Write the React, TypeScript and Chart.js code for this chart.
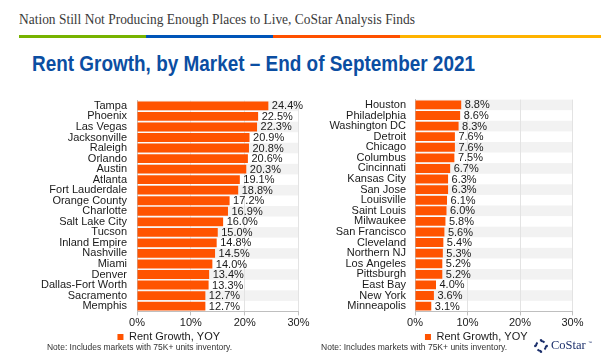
import React, { useEffect, useLayoutEffect, useRef } from "react";
import { Chart, registerables } from "chart.js";

Chart.register(...registerables);

const HEADLINE = "Nation Still Not Producing Enough Places to Live, CoStar Analysis Finds";
const TITLE = "Rent Growth, by Market – End of September 2021";
const SERIES_LABEL = "Rent Growth, YOY";
const NOTE = "Note: Includes markets with 75K+ units inventory.";
const X_TICKS = [0, 10, 20, 30];

const leftMarkets = [
  "Tampa", "Phoenix", "Las Vegas", "Jacksonville", "Raleigh", "Orlando", "Austin",
  "Atlanta", "Fort Lauderdale", "Orange County", "Charlotte", "Salt Lake City", "Tucson",
  "Inland Empire", "Nashville", "Miami", "Denver", "Dallas-Fort Worth", "Sacramento", "Memphis",
];
const leftValues = [
  24.4, 22.5, 22.3, 20.9, 20.8, 20.6, 20.3, 19.1, 18.8, 17.2,
  16.9, 16.0, 15.0, 14.8, 14.5, 14.0, 13.4, 13.3, 12.7, 12.7,
];

const rightMarkets = [
  "Houston", "Philadelphia", "Washington DC", "Detroit", "Chicago", "Columbus", "Cincinnati",
  "Kansas City", "San Jose", "Louisville", "Saint Louis", "Milwaukee", "San Francisco",
  "Cleveland", "Northern NJ", "Los Angeles", "Pittsburgh", "East Bay", "New York", "Minneapolis",
];
const rightValues = [
  8.8, 8.6, 8.3, 7.6, 7.6, 7.5, 6.7, 6.3, 6.3, 6.1,
  6.0, 5.8, 5.6, 5.4, 5.3, 5.2, 5.2, 4.0, 3.6, 3.1,
];

const SANS = '"Liberation Sans", Arial, sans-serif';
const SERIF = '"Liberation Serif", "Times New Roman", serif';
const BAR_COLOR = "#FF5300";
const TEXT_COLOR = "#1a1a1a";

type Geo = {
  left: number;
  top: number;
  width: number;
  height: number;
  padLeft: number;
  padRight: number;
  padTop: number;
  padBottom: number;
  yAxisWidth: number;
  tickPad: number;
  legendShift: number;
};

function BarPanel({ labels, values, geo }: { labels: string[]; values: number[]; geo: Geo }) {
  const ref = useRef<HTMLCanvasElement>(null);
  useEffect(() => {
    if (!ref.current) return;
    const zebra = {
      id: "zebra",
      beforeDraw(chart: any) {
        const { ctx, chartArea, scales } = chart;
        const y = scales.y;
        const step = Math.abs(y.getPixelForValue(1) - y.getPixelForValue(0));
        ctx.save();
        ctx.fillStyle = "#F2F2F2";
        labels.forEach((_, i) => {
          if (i % 2 !== 0) return;
          const c = y.getPixelForValue(i);
          ctx.fillRect(chartArea.left, c - step / 2, chartArea.right - chartArea.left, step);
        });
        ctx.restore();
      },
    };
    const legendShift = {
      id: "legendShift",
      afterLayout(chart: any) {
        if (chart.legend && geo.legendShift) {
          chart.legend.left += geo.legendShift;
          chart.legend.right += geo.legendShift;
        }
      },
    };
    const valueLabels = {
      id: "valueLabels",
      afterDatasetsDraw(chart: any) {
        const { ctx } = chart;
        const meta = chart.getDatasetMeta(0);
        ctx.save();
        ctx.font = `11px ${SANS}`;
        ctx.fillStyle = TEXT_COLOR;
        ctx.textAlign = "left";
        ctx.textBaseline = "middle";
        meta.data.forEach((bar: any, i: number) => {
          ctx.fillText(values[i].toFixed(1) + "%", bar.x + 3.5, bar.y + 0.5);
        });
        ctx.restore();
      },
    };
    const chart = new Chart(ref.current, {
      type: "bar",
      data: {
        labels,
        datasets: [
          {
            label: SERIES_LABEL,
            data: values,
            backgroundColor: BAR_COLOR,
            borderWidth: 0,
            barPercentage: 0.84,
            categoryPercentage: 1,
          },
        ],
      },
      options: {
        indexAxis: "y",
        animation: false,
        responsive: false,
        devicePixelRatio: 1,
        layout: {
          padding: { left: geo.padLeft, right: geo.padRight, top: geo.padTop, bottom: geo.padBottom },
        },
        plugins: {
          tooltip: { enabled: false },
          legend: {
            position: "bottom",
            labels: {
              boxWidth: 6,
              boxHeight: 6,
              padding: 4,
              color: TEXT_COLOR,
              font: { family: SANS, size: 11 },
            },
          },
        },
        scales: {
          x: {
            type: "linear",
            min: X_TICKS[0],
            max: X_TICKS[X_TICKS.length - 1],
            afterBuildTicks: (scale: any) => {
              scale.ticks = X_TICKS.map((v) => ({ value: v }));
            },
            afterFit: (scale: any) => {
              scale.height = 16;
            },
            ticks: {
              callback: (v: any) => `${v}%`,
              color: TEXT_COLOR,
              font: { family: SANS, size: 11 },
              padding: 1,
              maxRotation: 0,
            },
            grid: { color: "#E3E3E3", tickColor: "#BFBFBF", tickLength: 4, drawTicks: true },
            border: { display: true, color: "#BFBFBF" },
          },
          y: {
            type: "category",
            afterFit: (scale: any) => {
              scale.width = geo.yAxisWidth;
            },
            ticks: {
              color: TEXT_COLOR,
              font: { family: SANS, size: 11 },
              padding: geo.tickPad,
              autoSkip: false,
            },
            grid: { display: false, drawTicks: false },
            border: { display: true, color: "#BFBFBF" },
          },
        },
      },
      plugins: [zebra, legendShift, valueLabels],
    } as any);
    return () => chart.destroy();
  }, []);
  return (
    <canvas
      ref={ref}
      width={geo.width}
      height={geo.height}
      style={{ position: "absolute", left: geo.left, top: geo.top, width: geo.width, height: geo.height }}
    />
  );
}

function FitText({
  text,
  x,
  top,
  width,
  style,
}: {
  text: string;
  x: number;
  top: number;
  width: number;
  style: React.CSSProperties;
}) {
  const ref = useRef<HTMLSpanElement>(null);
  useLayoutEffect(() => {
    const el = ref.current;
    if (!el) return;
    el.style.transform = "none";
    const w = el.getBoundingClientRect().width;
    if (w > 0) el.style.transform = `scaleX(${width / w})`;
  }, []);
  return (
    <span
      ref={ref}
      style={{
        position: "absolute",
        left: x,
        top,
        whiteSpace: "nowrap",
        transformOrigin: "0 0",
        lineHeight: 1,
        ...style,
      }}
    >
      {text}
    </span>
  );
}

function Logo() {
  const segs = [0, 90, 180, 270];
  return (
    <>
      <svg
        width={14}
        height={14}
        viewBox="0 0 14 14"
        style={{ position: "absolute", left: 534, top: 339 }}
      >
        {segs.map((a) => (
          <g key={a} transform={`rotate(${a} 7 7)`}>
            <path d="M 7 1 A 6 6 0 0 1 11.2 2.8 L 9.8 4.2 A 4 4 0 0 0 7 3 Z" fill="#1B2F6B" />
            <rect x={11.6} y={5.9} width={2.2} height={2.2} fill="#1B2F6B" />
          </g>
        ))}
      </svg>
      <span
        style={{
          position: "absolute",
          left: 551,
          top: 339,
          fontFamily: SERIF,
          fontSize: 12.5,
          lineHeight: 1,
          color: "#1B2F6B",
          whiteSpace: "nowrap",
        }}
      >
        CoStar
      </span>
      <span
        style={{
          position: "absolute",
          left: 588,
          top: 341,
          fontFamily: SANS,
          fontSize: 4,
          lineHeight: 1,
          color: "#1B2F6B",
        }}
      >
        ™
      </span>
    </>
  );
}

export default function App() {
  const leftGeo: Geo = {
    left: 0,
    top: 84,
    width: 312,
    height: 274,
    padLeft: 39,
    padRight: 13.5,
    padTop: 10.2,
    padBottom: 5.6,
    yAxisWidth: 98,
    tickPad: 10,
    legendShift: 0,
  };
  const rightGeo: Geo = {
    left: 316,
    top: 84,
    width: 285,
    height: 274,
    padLeft: 0,
    padRight: 28.5,
    padTop: 10.2,
    padBottom: 5.6,
    yAxisWidth: 99,
    tickPad: 9,
    legendShift: 32,
  };
  const stripe = [
    { left: 19, width: 127, color: "#77B300" },
    { left: 146, width: 127, color: "#0055B8" },
    { left: 273, width: 127, color: "#FF5000" },
    { left: 400, width: 201, color: "#FFB300" },
  ];
  return (
    <div
      style={{
        position: "fixed",
        left: 0,
        top: 0,
        width: 601,
        height: 358,
        overflow: "hidden",
        background: "#ffffff",
      }}
    >
      <FitText
        text={HEADLINE}
        x={19}
        top={12.4}
        width={396}
        style={{ fontFamily: SERIF, fontSize: 15, color: "#3a3a3a" }}
      />
      {stripe.map((s) => (
        <div
          key={s.left}
          style={{ position: "absolute", left: s.left, top: 35, width: s.width, height: 3, background: s.color }}
        />
      ))}
      <FitText
        text={TITLE}
        x={32}
        top={52.9}
        width={443}
        style={{ fontFamily: SANS, fontSize: 22, fontWeight: "bold", color: "#0B4EA2" }}
      />
      <BarPanel labels={leftMarkets} values={leftValues} geo={leftGeo} />
      <BarPanel labels={rightMarkets} values={rightValues} geo={rightGeo} />
      <FitText
        text={NOTE}
        x={47}
        top={342.9}
        width={185}
        style={{ fontFamily: SANS, fontSize: 9, color: "#333333" }}
      />
      <FitText
        text={NOTE}
        x={321}
        top={342.9}
        width={186}
        style={{ fontFamily: SANS, fontSize: 9, color: "#333333" }}
      />
      <Logo />
    </div>
  );
}
